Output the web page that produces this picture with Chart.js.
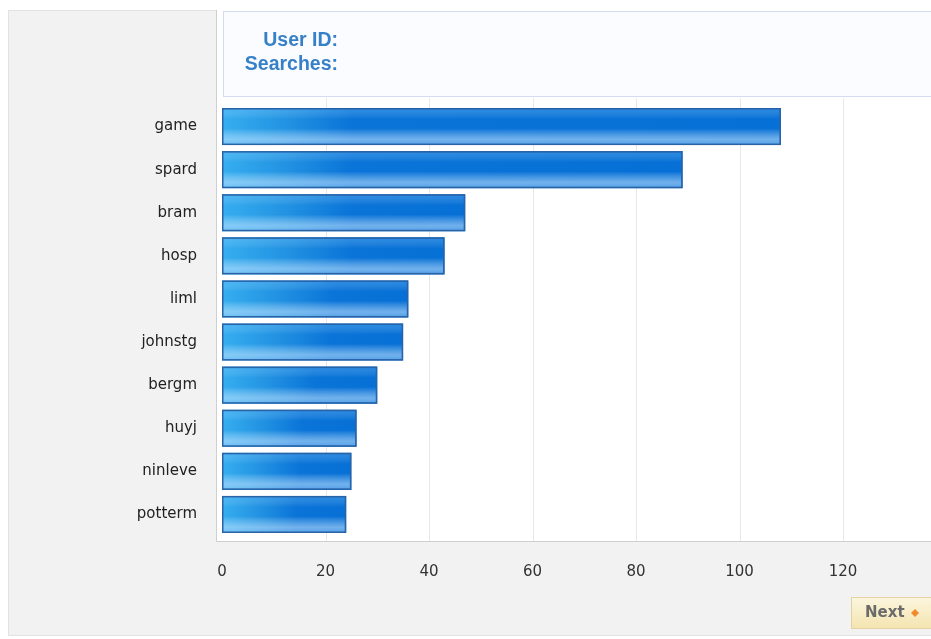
<!DOCTYPE html>
<html>
<head>
<meta charset="utf-8">
<script src="https://cdn.jsdelivr.net/npm/chart.js@4.4.1/dist/chart.umd.min.js"></script>
<style>
html,body{margin:0;padding:0;background:#fff;overflow:hidden;}
#wrap{position:relative;width:931px;height:639px;}
canvas{display:block;}
</style>
</head>
<body>
<div id="wrap"><canvas id="c" width="931" height="639"></canvas></div>
<script>
const users = ["game","spard","bram","hosp","liml","johnstg","bergm","huyj","ninleve","potterm"];
const searches = [108, 89, 47, 43, 36, 35, 30, 26, 25, 24];
const xTickValues = [0, 20, 40, 60, 80, 100, 120];
const xMax = 137;
const infoLabels = ["User ID:", "Searches:"];
const buttonLabel = "Next";

const backgroundPlugin = {
  id: 'bg',
  beforeDraw(chart) {
    const ctx = chart.ctx;
    ctx.save();
    ctx.fillStyle = '#ffffff';
    ctx.fillRect(0, 0, chart.width, chart.height);
    // outer grey panel
    ctx.fillStyle = '#f2f2f2';
    ctx.fillRect(8, 10, 940, 626);
    ctx.strokeStyle = '#e2e2e2';
    ctx.lineWidth = 1;
    ctx.strokeRect(8.5, 10.5, 940, 625);
    // white plot area
    ctx.fillStyle = '#ffffff';
    ctx.fillRect(217, 10, 720, 531);
    ctx.strokeStyle = '#cfcfcf';
    ctx.beginPath();
    ctx.moveTo(216.5, 10); ctx.lineTo(216.5, 541.5); ctx.lineTo(940, 541.5);
    ctx.stroke();
    // info box
    ctx.fillStyle = '#fbfcff';
    ctx.fillRect(223, 11, 720, 86);
    ctx.strokeStyle = '#d3dcef';
    ctx.strokeRect(223.5, 11.5, 720, 85);
    ctx.fillStyle = '#3580c8';
    ctx.font = 'bold 19.5px "Liberation Sans", Arial, sans-serif';
    ctx.textAlign = 'right';
    ctx.textBaseline = 'middle';
    ctx.fillText(infoLabels[0], 338, 41);
    ctx.fillText(infoLabels[1], 338, 65);
    // Next button
    const g = ctx.createLinearGradient(0, 597, 0, 630);
    g.addColorStop(0, '#fcf6df');
    g.addColorStop(1, '#f3e3ad');
    ctx.fillStyle = g;
    ctx.fillRect(851, 597, 90, 32);
    ctx.strokeStyle = '#e4d3a2';
    ctx.strokeRect(851.5, 597.5, 90, 31);
    ctx.fillStyle = '#6b6b6b';
    ctx.font = 'bold 15px "DejaVu Sans", sans-serif';
    ctx.textAlign = 'left';
    ctx.fillText(buttonLabel, 865, 613);
    ctx.fillStyle = '#f08a2c';
    ctx.beginPath();
    ctx.moveTo(915, 609); ctx.lineTo(919, 613); ctx.lineTo(915, 617); ctx.lineTo(911, 613);
    ctx.closePath(); ctx.fill();
    ctx.restore();
  },
  beforeDatasetsDraw(chart) {
    const ctx = chart.ctx;
    const xs = chart.scales.x;
    ctx.save();
    ctx.strokeStyle = '#e8e8e8';
    ctx.lineWidth = 1;
    xs.ticks.forEach(t => {
      if (t.value === 0) return;
      const px = Math.round(xs.getPixelForValue(t.value)) + 0.5;
      ctx.beginPath();
      ctx.moveTo(px, 98); ctx.lineTo(px, 541);
      ctx.stroke();
    });
    ctx.restore();
  },
  afterDatasetsDraw(chart) {
    const ctx = chart.ctx;
    const meta = chart.getDatasetMeta(0);
    ctx.save();
    meta.data.forEach(bar => {
      const p = bar.getProps(['x', 'y', 'base', 'height'], true);
      const top = p.y - p.height / 2, h = p.height;
      const left = p.base, w = p.x - p.base;
      const v = ctx.createLinearGradient(0, top, 0, top + h);
      v.addColorStop(0, 'rgba(120,200,255,0.3)');
      v.addColorStop(0.3, 'rgba(255,255,255,0)');
      v.addColorStop(0.55, 'rgba(255,255,255,0)');
      v.addColorStop(0.85, 'rgba(200,230,255,0.55)');
      v.addColorStop(1, 'rgba(180,220,255,0.45)');
      ctx.fillStyle = v;
      ctx.fillRect(left + 1, top + 1, w - 2, h - 2);
      ctx.strokeStyle = '#2a62a6';
      ctx.lineWidth = 1.5;
      ctx.strokeRect(left + 0.75, top + 0.75, w - 1.5, h - 1.5);
    });
    ctx.restore();
  }
};

new Chart(document.getElementById('c'), {
  type: 'bar',
  data: {
    labels: users,
    datasets: [{
      data: searches,
      backgroundColor(context) {
        const chart = context.chart;
        const xs = chart.scales && chart.scales.x;
        if (!chart.chartArea || !xs) return '#0a74d8';
        const x0 = xs.getPixelForValue(0);
        const x1 = xs.getPixelForValue(context.raw);
        const w = Math.max(x1 - x0, 1);
        const g = chart.ctx.createLinearGradient(x0, 0, x1, 0);
        const a = Math.min(0.6, 130 / w);
        g.addColorStop(0, '#36aef0');
        g.addColorStop(a * 0.5, '#2292e2');
        g.addColorStop(a, '#0a74d8');
        g.addColorStop(1, '#0670d6');
        return g;
      },
      borderWidth: 0,
      barPercentage: 0.86,
      categoryPercentage: 1.0
    }]
  },
  options: {
    indexAxis: 'y',
    responsive: false,
    animation: false,
    devicePixelRatio: 1,
    layout: { padding: { top: 105, right: 0, left: 0, bottom: 0 } },
    plugins: { legend: { display: false }, tooltip: { enabled: false }, title: { display: false } },
    scales: {
      x: {
        type: 'linear',
        min: 0,
        max: xMax,
        grid: { display: false, drawTicks: false },
        border: { display: false },
        ticks: {
          stepSize: 20,
          padding: 27,
          color: '#333333',
          font: { family: '"DejaVu Sans", sans-serif', size: 15 },
          maxRotation: 0
        },
        afterBuildTicks(scale) {
          scale.ticks = xTickValues.map(v => ({ value: v }));
        },
        afterFit(scale) { scale.height = 103; }
      },
      y: {
        grid: { display: false, drawTicks: false },
        border: { display: false },
        ticks: {
          padding: 25,
          color: '#222222',
          font: { family: '"DejaVu Sans", sans-serif', size: 15 }
        },
        afterFit(scale) { scale.width = 222; }
      }
    }
  },
  plugins: [backgroundPlugin]
});
</script>
</body>
</html>
